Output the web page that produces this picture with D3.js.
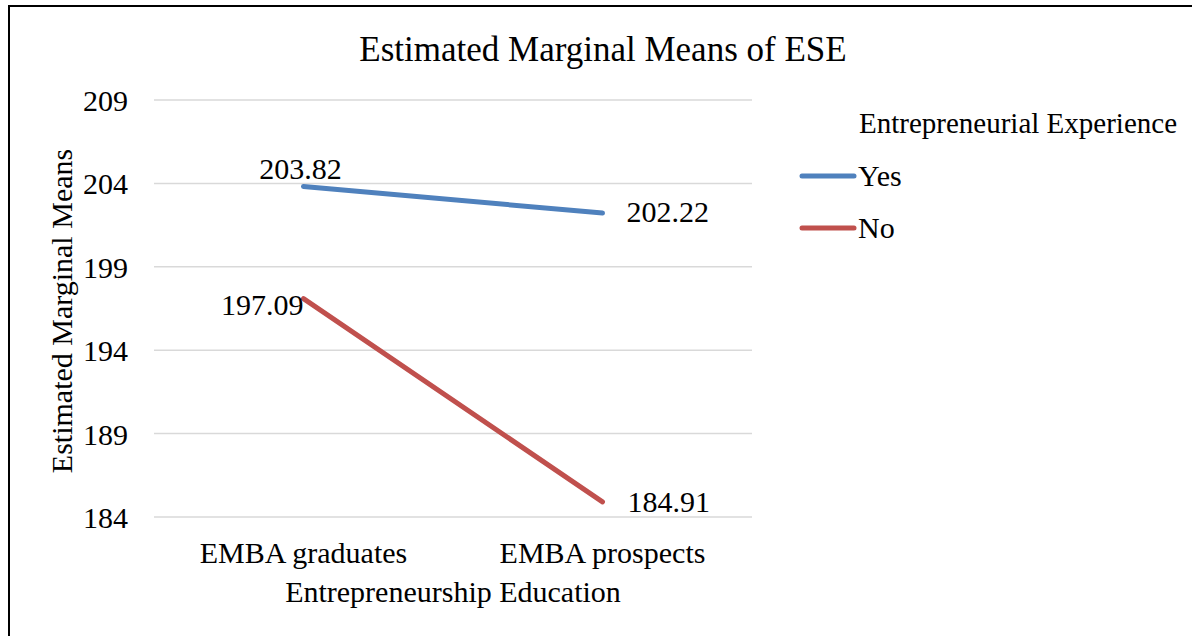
<!DOCTYPE html>
<html>
<head>
<meta charset="utf-8">
<script src="https://cdn.jsdelivr.net/npm/d3@7"></script>
<style>
  html, body { margin: 0; padding: 0; background: #fff; }
  svg { display: block; }
  text { font-family: "Liberation Serif", "Times New Roman", serif; fill: #000; }
</style>
</head>
<body>
<svg id="chart" width="1192" height="636"></svg>
<script>
// Estimated marginal means of ESE by education group and experience
const categories = ["EMBA graduates", "EMBA prospects"];
const seriesNames = ["Yes", "No"];
const yesValues = [203.82, 202.22];
const noValues = [197.09, 184.91];
const yTicks = [184, 189, 194, 199, 204, 209];
const seriesColors = ["#4F81BD", "#C0504D"];

const series = [
  { name: seriesNames[0], values: yesValues, color: seriesColors[0] },
  { name: seriesNames[1], values: noValues, color: seriesColors[1] }
];

const svg = d3.select("#chart");
const W = 1192, H = 636;
const plot = { left: 154, right: 752, top: 100, bottom: 517 };
const FONT = "Liberation Serif";

svg.append("rect").attr("width", W).attr("height", H).attr("fill", "#fff");
// outer chart frame
svg.append("rect")
  .attr("x", 9).attr("y", 6)
  .attr("width", W + 20).attr("height", H + 20)
  .attr("fill", "none").attr("stroke", "#000").attr("stroke-width", 2);

const x = d3.scaleBand().domain(categories).range([plot.left, plot.right]);
const y = d3.scaleLinear().domain([184, 209]).range([plot.bottom, plot.top]);
const cx = c => x(c) + x.bandwidth() / 2;

// horizontal gridlines
svg.append("g").selectAll("line").data(yTicks).join("line")
  .attr("x1", plot.left).attr("x2", plot.right)
  .attr("y1", d => y(d)).attr("y2", d => y(d))
  .attr("stroke", "#D9D9D9").attr("stroke-width", 1.5);

// y axis labels
const yAxis = d3.axisLeft(y).tickValues(yTicks).tickSize(0).tickPadding(0).tickFormat(d3.format("d"));
const yg = svg.append("g").attr("transform", `translate(${plot.left - 26},0)`).call(yAxis);
yg.attr("font-family", FONT).attr("font-size", 30);
yg.select(".domain").remove();
yg.selectAll("text").attr("fill", "#000").attr("dy", "0.35em");

// x axis labels
const xAxis = d3.axisBottom(x).tickSize(0).tickPadding(0);
const xg = svg.append("g").attr("transform", `translate(0,${plot.bottom})`).call(xAxis);
xg.attr("font-family", FONT).attr("font-size", 30);
xg.select(".domain").remove();
xg.selectAll("text").attr("fill", "#000").attr("y", 46).attr("dy", null);

// title and axis titles
svg.append("text").attr("x", 603).attr("y", 61).attr("text-anchor", "middle")
  .attr("font-size", 35).text("Estimated Marginal Means of ESE");
svg.append("text").attr("x", 453).attr("y", 602).attr("text-anchor", "middle")
  .attr("font-size", 30).text("Entrepreneurship Education");
svg.append("text").attr("transform", "translate(72,311) rotate(-90)").attr("text-anchor", "middle")
  .attr("font-size", 30).text("Estimated Marginal Means");

// series lines
const line = d3.line().x((d, i) => cx(categories[i])).y(d => y(d));
svg.append("g").selectAll("path").data(series).join("path")
  .attr("d", d => line(d.values))
  .attr("fill", "none").attr("stroke", d => d.color)
  .attr("stroke-width", 5).attr("stroke-linecap", "round").attr("stroke-linejoin", "round");

// data labels
const fmt = d3.format(".2f");
const labelPlacement = [
  [{ dx: -3, dy: -7, anchor: "middle" }, { dx: 24, dy: 9, anchor: "start" }],
  [{ dx: 0, dy: 16, anchor: "end" }, { dx: 25, dy: 10, anchor: "start" }]
];
series.forEach((s, si) => {
  s.values.forEach((v, i) => {
    const p = labelPlacement[si][i];
    svg.append("text")
      .attr("x", cx(categories[i]) + p.dx)
      .attr("y", y(v) + p.dy)
      .attr("text-anchor", p.anchor)
      .attr("font-size", 30)
      .text(fmt(v));
  });
});

// legend
svg.append("text").attr("x", 859).attr("y", 133).attr("font-size", 29).text("Entrepreneurial Experience");
const legend = svg.append("g").selectAll("g").data(series).join("g")
  .attr("transform", (d, i) => `translate(802,${176 + i * 52})`);
legend.append("line").attr("x1", 0).attr("x2", 52).attr("y1", 0).attr("y2", 0)
  .attr("stroke", d => d.color).attr("stroke-width", 5).attr("stroke-linecap", "round");
legend.append("text").attr("x", 56).attr("y", 10).attr("font-size", 30).text(d => d.name);
</script>
</body>
</html>
